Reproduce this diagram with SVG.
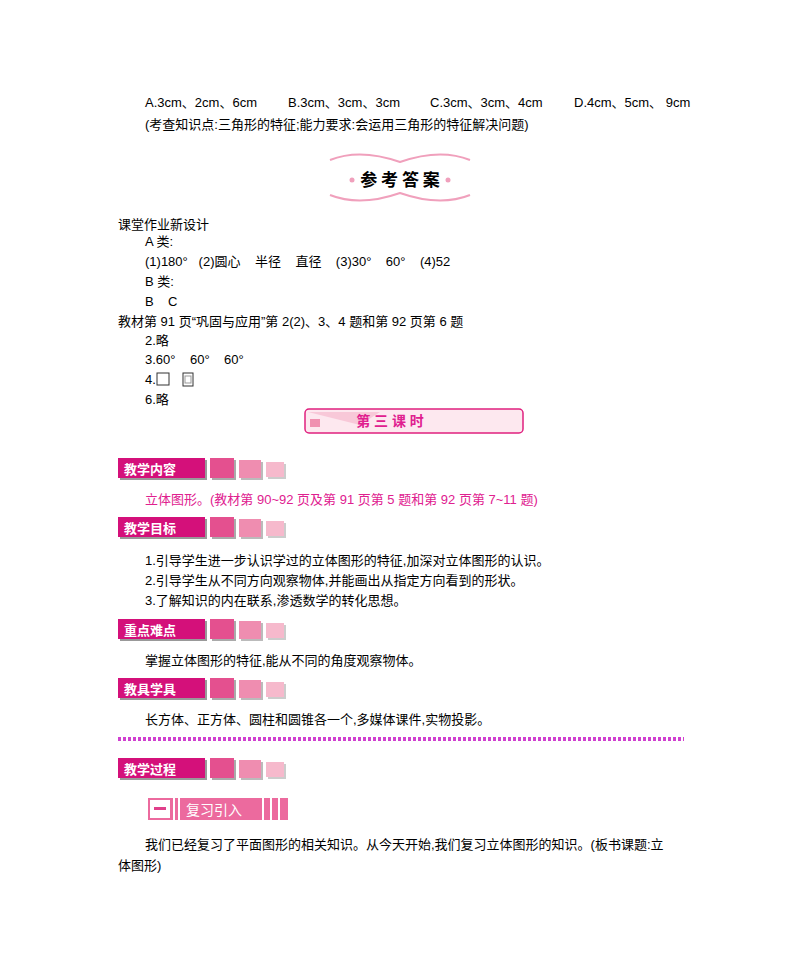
<svg xmlns="http://www.w3.org/2000/svg" width="800" height="977" viewBox="0 0 800 977" xml:space="preserve">
<style>
text{font-family:"Liberation Sans","Noto Sans CJK SC",sans-serif;font-size:13px;fill:#000;white-space:pre}
.m{fill:#e0208f}
.h{fill:#fff;font-size:13px;font-weight:bold}
.s1{fill:#e4508f}.s2{fill:#ef8db0}.s3{fill:#f6b9cc}
</style>
<defs>
<g id="hdr">
<rect x="2" y="2" width="87" height="20" fill="#999"/>
<rect x="0" y="0" width="87" height="20" fill="#d4107a"/>
<rect x="94" y="2" width="24" height="20" fill="#aaa"/>
<rect x="92" y="0" width="24" height="20" class="s1"/>
<rect x="123" y="4" width="22" height="18" fill="#bbb"/>
<rect x="121" y="2" width="22" height="18" class="s2"/>
<rect x="150" y="6" width="18" height="15" fill="#ccc"/>
<rect x="148" y="4" width="18" height="15" class="s3"/>
</g>
</defs>
<rect width="800" height="977" fill="#fff"/>
<text x="145" y="107">A.3cm、2cm、6cm</text>
<text x="288" y="107">B.3cm、3cm、3cm</text>
<text x="430" y="107">C.3cm、3cm、4cm</text>
<text x="574" y="107">D.4cm、5cm、 9cm</text>
<text x="145" y="129">(考查知识点:三角形的特征;能力要求:会运用三角形的特征解决问题)</text>
<g id="banner1">
<path d="M330 160 Q360 148 400 162 Q440 148 470 160" fill="none" stroke="#f0a0bc" stroke-width="2"/>
<path d="M330 195 Q360 207 400 193 Q440 207 470 195" fill="none" stroke="#f0a0bc" stroke-width="2"/>
<rect x="342" y="166" width="116" height="26" fill="#fff"/>
<circle cx="352" cy="180" r="2.5" fill="#f0a0bc"/><circle cx="448" cy="180" r="2.5" fill="#f0a0bc"/>
<text x="400" y="186" text-anchor="middle" style="font-size:17px;font-weight:bold;font-family:'Noto Sans CJK SC',sans-serif">参 考 答 案</text>
</g>
<text x="118" y="229">课堂作业新设计</text>
<text x="145" y="246">A 类:</text>
<text x="145" y="266">(1)180°   (2)圆心    半径    直径    (3)30°    60°    (4)52</text>
<text x="145" y="286">B 类:</text>
<text x="145" y="306">B    C</text>
<text x="118" y="326">教材第 91 页“巩固与应用”第 2(2)、3、4 题和第 92 页第 6 题</text>
<text x="145" y="345">2.略</text>
<text x="145" y="364">3.60°    60°    60°</text>
<text x="145" y="384">4.</text>
<rect x="157" y="373" width="12" height="12" fill="none" stroke="#333"/>
<rect x="183" y="373" width="10" height="13" fill="none" stroke="#333"/>
<rect x="185" y="376" width="6" height="7" fill="none" stroke="#999"/>
<text x="145" y="404">6.略</text>
<g id="banner2">
<rect x="305" y="409" width="218" height="24" rx="4" fill="#fde8ef" stroke="#e0207f" stroke-width="1.5"/>
<polygon points="308,412 360,425 380,412" fill="#f8c8d8"/>
<rect x="310" y="419" width="10" height="8" fill="#f090b0"/>
<text x="390" y="426" text-anchor="middle" style="font-size:14px;font-weight:bold;fill:#e0208f">第 三 课 时</text>
</g>
<g id="h1"><use href="#hdr" x="118" y="458"/><text class="h" x="124" y="474">教学内容</text></g>
<text class="m" x="145" y="504">立体图形。(教材第 90~92 页及第 91 页第 5 题和第 92 页第 7~11 题)</text>
<g id="h2"><use href="#hdr" x="118" y="517"/><text class="h" x="124" y="533">教学目标</text></g>
<text x="145" y="565">1.引导学生进一步认识学过的立体图形的特征,加深对立体图形的认识。</text>
<text x="145" y="585">2.引导学生从不同方向观察物体,并能画出从指定方向看到的形状。</text>
<text x="145" y="605">3.了解知识的内在联系,渗透数学的转化思想。</text>
<g id="h3"><use href="#hdr" x="118" y="619"/><text class="h" x="124" y="635">重点难点</text></g>
<text x="145" y="665">掌握立体图形的特征,能从不同的角度观察物体。</text>
<g id="h4"><use href="#hdr" x="118" y="678"/><text class="h" x="124" y="694">教具学具</text></g>
<text x="145" y="724">长方体、正方体、圆柱和圆锥各一个,多媒体课件,实物投影。</text>
<line x1="118" y1="739" x2="684" y2="739" stroke="#d040d0" stroke-width="4" stroke-dasharray="3,2"/>
<g id="h5"><use href="#hdr" x="118" y="758"/><text class="h" x="124" y="774">教学过程</text></g>
<g id="sec1">
<rect x="148" y="798" width="140" height="22" fill="#ec6a9e"/>
<rect x="150" y="800" width="20" height="18" fill="#fff"/>
<rect x="154" y="807" width="12" height="3" fill="#e0408a"/>
<rect x="173" y="798" width="2" height="22" fill="#fff"/><rect x="178" y="798" width="2" height="22" fill="#fff"/>
<rect x="262" y="798" width="2" height="22" fill="#fff"/><rect x="270" y="798" width="2" height="22" fill="#fff"/><rect x="278" y="798" width="2" height="22" fill="#fff"/>
<text x="186" y="815" style="fill:#fff;font-size:14px">复习引入</text>
</g>
<text x="145" y="849">我们已经复习了平面图形的相关知识。从今天开始,我们复习立体图形的知识。(板书课题:立</text>
<text x="118" y="870">体图形)</text>
</svg>
